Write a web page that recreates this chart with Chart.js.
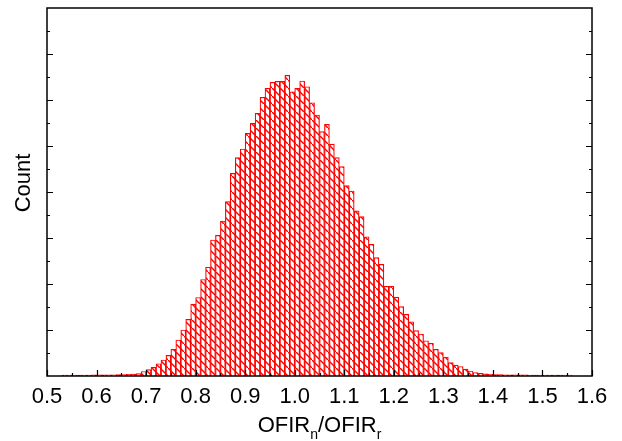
<!DOCTYPE html>
<html>
<head>
<meta charset="utf-8">
<script src="https://cdn.jsdelivr.net/npm/chart.js@4/dist/chart.umd.min.js"></script>
<style>
  body { margin: 0; background: #fff; }
  canvas { display: block; }
</style>
</head>
<body>
<canvas id="histChart" width="622" height="441"></canvas>
<script>
// bin left edges (width 0.01)
const binLeft = [
  0.53, 0.54, 0.55, 0.56, 0.57, 0.58, 0.59, 0.60, 0.61, 0.62,
  0.63, 0.64, 0.65, 0.66, 0.67, 0.68, 0.69, 0.70, 0.71, 0.72,
  0.73, 0.74, 0.75, 0.76, 0.77, 0.78, 0.79, 0.80, 0.81, 0.82,
  0.83, 0.84, 0.85, 0.86, 0.87, 0.88, 0.89, 0.90, 0.91, 0.92,
  0.93, 0.94, 0.95, 0.96, 0.97, 0.98, 0.99, 1.00, 1.01, 1.02,
  1.03, 1.04, 1.05, 1.06, 1.07, 1.08, 1.09, 1.10, 1.11, 1.12,
  1.13, 1.14, 1.15, 1.16, 1.17, 1.18, 1.19, 1.20, 1.21, 1.22,
  1.23, 1.24, 1.25, 1.26, 1.27, 1.28, 1.29, 1.30, 1.31, 1.32,
  1.33, 1.34, 1.35, 1.36, 1.37, 1.38, 1.39, 1.40, 1.41, 1.42,
  1.43, 1.44, 1.45, 1.46, 1.47, 1.48, 1.49, 1.50, 1.51, 1.52,
  1.53, 1.54, 1.55
];
const binWidth = 0.01;

// counts per bin (axis unlabelled, so units are arbitrary)
const counts = [
  22, 22, 18, 18, 22, 22, 24, 24, 26, 26,
  28, 30, 32, 37, 43, 54, 98, 141, 189, 267,
  348, 450, 580, 783, 1000, 1233, 1565, 1707, 2098, 2365,
  2957, 3059, 3370, 3793, 4407, 4746, 4935, 5276, 5493, 5711,
  6059, 6254, 6385, 6407, 6407, 6537, 6180, 6254, 6413, 6289,
  5941, 5674, 5311, 5472, 5043, 4746, 4550, 4137, 4022, 3591,
  3463, 3028, 2863, 2572, 2428, 1950, 1950, 1717, 1507, 1341,
  1180, 985, 913, 767, 711, 580, 511, 413, 293, 239,
  207, 152, 109, 76, 59, 45, 38, 33, 30, 28,
  26, 26, 24, 24, 22, 22, 22, 22, 22, 22,
  22, 20, 20
];

const xTicks = [0.5, 0.6, 0.7, 0.8, 0.9, 1.0, 1.1, 1.2, 1.3, 1.4, 1.5, 1.6];
const yMajor = [1000, 2000, 3000, 4000, 5000, 6000, 7000];
const yMax = 8000;

const FONT = '"Liberation Sans", Arial, sans-serif';

// red "\" hatch
function makeHatch() {
    const c = document.createElement('canvas');
    c.width = 8;
    c.height = 8;
    const g = c.getContext('2d');
    g.fillStyle = '#fff';
    g.fillRect(0, 0, 8, 8);
    g.strokeStyle = '#ff0000';
    g.lineWidth = 1.4;
    g.beginPath();
    g.moveTo(-1, -1);
    g.lineTo(9, 9);
    g.stroke();
    return g.createPattern(c, 'repeat');
}

// frame, inside ticks (bottom, left, right) and axis titles
const framePlugin = {
    id: 'frame',
    afterDraw(chart) {
        const ctx = chart.ctx;
        const a = chart.chartArea;
        const xs = chart.scales.x;
        const ys = chart.scales.y;
        ctx.save();
        ctx.strokeStyle = '#000';
        ctx.lineWidth = 1.5;
        ctx.strokeRect(a.left, a.top, a.right - a.left, a.bottom - a.top);

        ctx.lineWidth = 1.2;
        ctx.beginPath();
        xTicks.forEach((v, i) => {
            const px = Math.round(xs.getPixelForValue(v)) + 0.5;
            ctx.moveTo(px, a.bottom); ctx.lineTo(px, a.bottom - 6);
            if (i < xTicks.length - 1) {
                const pm = Math.round(xs.getPixelForValue(v + 0.05)) + 0.5;
                ctx.moveTo(pm, a.bottom); ctx.lineTo(pm, a.bottom - 3);
            }
        });
        yMajor.forEach(v => {
            const py = Math.round(ys.getPixelForValue(v)) + 0.5;
            ctx.moveTo(a.left, py); ctx.lineTo(a.left + 6, py);
            ctx.moveTo(a.right, py); ctx.lineTo(a.right - 6, py);
        });
        for (let v = 500; v < yMax; v += 1000) {
            const py = Math.round(ys.getPixelForValue(v)) + 0.5;
            ctx.moveTo(a.left, py); ctx.lineTo(a.left + 3, py);
            ctx.moveTo(a.right, py); ctx.lineTo(a.right - 3, py);
        }
        ctx.stroke();

        // y title
        ctx.fillStyle = '#000';
        ctx.font = '22px ' + FONT;
        ctx.textAlign = 'center';
        ctx.textBaseline = 'middle';
        ctx.translate(24, 183);
        ctx.rotate(-Math.PI / 2);
        ctx.fillText('Count', 0, 0);
        ctx.restore();

        // x title with subscripts
        ctx.save();
        ctx.fillStyle = '#000';
        ctx.textBaseline = 'alphabetic';
        ctx.textAlign = 'left';
        const parts = [['OFIR', 22, 0], ['n', 14, 7], ['/OFIR', 22, 0], ['r', 14, 7]];
        let total = 0;
        parts.forEach(p => { ctx.font = p[1] + 'px ' + FONT; total += ctx.measureText(p[0]).width; });
        let x = (a.left + a.right) / 2 - total / 2;
        const base = 432;
        parts.forEach(p => {
            ctx.font = p[1] + 'px ' + FONT;
            ctx.fillText(p[0], x, base + p[2]);
            x += ctx.measureText(p[0]).width;
        });
        ctx.restore();
    }
};

document.addEventListener('DOMContentLoaded', function() {
    const ctx = document.getElementById('histChart').getContext('2d');
    const points = binLeft.map((b, i) => ({ x: b + binWidth / 2, y: counts[i] }));

    new Chart(ctx, {
        type: 'bar',
        data: {
            datasets: [{
                data: points,
                backgroundColor: makeHatch(),
                borderColor: '#ff0000',
                borderWidth: 1.2,
                barPercentage: 1.0,
                categoryPercentage: 1.0
            }]
        },
        options: {
            responsive: false,
            animation: false,
            layout: { padding: { top: 8, right: 30, left: 0, bottom: 0 } },
            scales: {
                x: {
                    type: 'linear',
                    min: 0.5,
                    max: 1.6,
                    offset: false,
                    grid: { display: false, drawTicks: false, offset: false },
                    border: { display: false },
                    afterBuildTicks: function(scale) {
                        scale.ticks = xTicks.map(v => ({ value: v }));
                    },
                    afterFit: function(scale) { scale.height = 65; },
                    ticks: {
                        color: '#000',
                        padding: 8,
                        maxRotation: 0,
                        autoSkip: false,
                        font: { family: FONT, size: 22 },
                        callback: v => Number(v).toFixed(1)
                    }
                },
                y: {
                    min: 0,
                    max: yMax,
                    grid: { display: false, drawTicks: false },
                    border: { display: false },
                    ticks: { display: false },
                    afterFit: function(scale) { scale.width = 47; }
                }
            },
            plugins: {
                legend: { display: false },
                tooltip: { enabled: false }
            }
        },
        plugins: [framePlugin]
    });
});
</script>
</body>
</html>
